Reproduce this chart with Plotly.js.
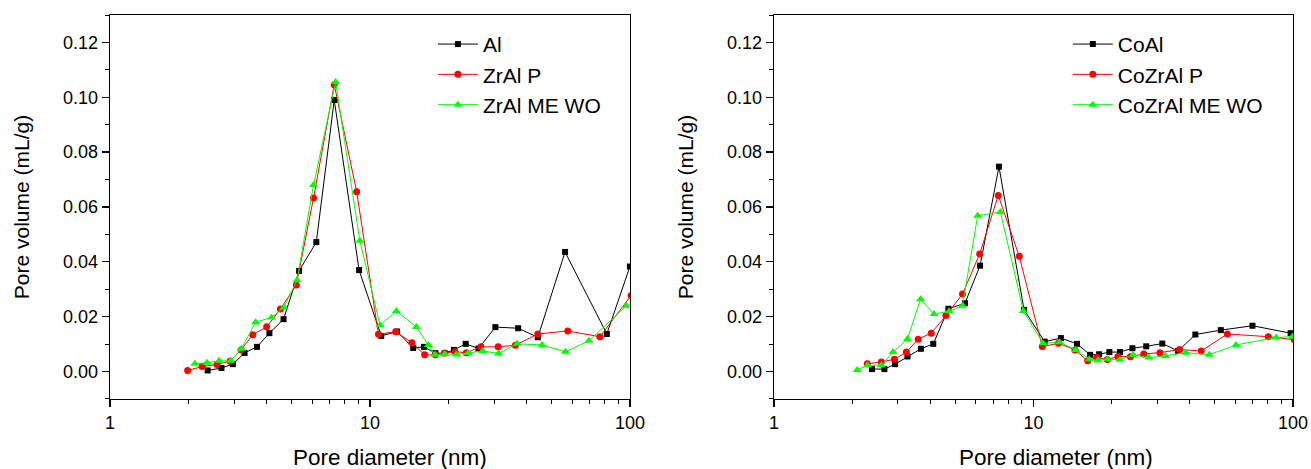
<!DOCTYPE html>
<html><head><meta charset="utf-8">
<script src="https://cdn.plot.ly/plotly-3.0.1.min.js"></script>
<style>body{margin:0;background:#fff}#chart{width:1311px;height:469px}</style>
</head><body><div id="chart"></div>
<script>
// Left panel
const alX = [2.375,2.684,2.969,3.293,3.676,4.104,4.652,5.338,6.218,7.288,9.08,11.05,12.71,14.67,16.13,17.85,19.38,21.04,23.35,26.15,30.37,37.15,44.23,56.29,81.5,100];
const alY = [0.0004,0.0013,0.0027,0.0068,0.0090,0.0140,0.0191,0.0367,0.0472,0.0990,0.0370,0.0130,0.0146,0.0086,0.0090,0.0067,0.0067,0.0079,0.0101,0.0084,0.0162,0.0158,0.0125,0.0436,0.0137,0.0383];
const zrpX = [1.989,2.262,2.579,2.896,3.193,3.543,4.004,4.525,5.208,6.067,7.288,8.889,10.78,12.56,14.50,16.23,17.85,19.38,21.24,23.49,26.72,31.12,36.26,44.23,57.68,76.64,101];
const zrpY = [0.0004,0.0018,0.0026,0.0038,0.0079,0.0134,0.0163,0.0228,0.0316,0.0633,0.1046,0.0656,0.0136,0.0145,0.0105,0.0061,0.0061,0.0068,0.0072,0.0069,0.0090,0.0090,0.0096,0.0137,0.0148,0.0127,0.0277];
const zrmX = [2.121,2.360,2.627,2.914,3.203,3.632,4.180,4.666,5.240,6.067,7.378,9.139,10.94,12.64,15.09,16.79,17.79,19.38,21.50,23.85,27.13,31.22,36.81,45.88,56.47,69.52,96.99];
const zrmY = [0.0028,0.0032,0.0039,0.0039,0.0083,0.0180,0.0197,0.0234,0.0333,0.0680,0.1056,0.0477,0.0169,0.0221,0.0162,0.0097,0.0061,0.0064,0.0062,0.0068,0.0075,0.0066,0.0101,0.0097,0.0072,0.0112,0.0240];
// Right panel
const coX = [2.386,2.663,2.928,3.268,3.681,4.109,4.699,5.441,6.222,7.359,9.195,11.04,12.75,14.71,16.52,17.89,19.60,21.54,24.05,27.18,31.35,36.08,42.03,52.69,69.78,97.88];
const coY = [0.0009,0.0009,0.0027,0.0055,0.0083,0.0101,0.0229,0.0249,0.0386,0.0747,0.0225,0.0109,0.0122,0.0101,0.0061,0.0063,0.0071,0.0071,0.0085,0.0092,0.0102,0.0075,0.0135,0.0151,0.0167,0.0140];
const cozpX = [2.287,2.592,2.910,3.237,3.592,4.034,4.598,5.325,6.203,7.313,8.810,10.81,12.48,14.44,16.17,17.51,19.24,21.15,23.61,26.60,30.69,36.52,44.27,55.83,80.27,101];
const cozpY = [0.0028,0.0035,0.0045,0.0071,0.0118,0.0140,0.0204,0.0283,0.0429,0.0642,0.0420,0.0091,0.0103,0.0079,0.0039,0.0051,0.0044,0.0055,0.0054,0.0064,0.0069,0.0080,0.0075,0.0137,0.0127,0.0116];
const cozmX = [2.093,2.294,2.592,2.875,3.268,3.670,4.134,4.727,5.325,6.090,7.449,9.140,10.88,12.59,14.54,16.42,17.72,19.30,21.48,24.20,27.84,32.23,38.60,47.49,60.26,86.13,99.38];
const cozmY = [0.0006,0.0023,0.0023,0.0071,0.0119,0.0264,0.0210,0.0220,0.0240,0.0568,0.0582,0.0221,0.0103,0.0107,0.0079,0.0045,0.0041,0.0045,0.0043,0.0060,0.0051,0.0057,0.0069,0.0061,0.0097,0.0124,0.0127];

const namesL = ['Al','ZrAl P','ZrAl ME WO'];
const namesR = ['CoAl','CoZrAl P','CoZrAl ME WO'];
const yTicks = [0,0.02,0.04,0.06,0.08,0.10,0.12];
const xTicks = [1,10,100];
const xMinor = [2,3,4,5,6,7,8,9,20,30,40,50,60,70,80,90];
const xTitle = 'Pore diameter (nm)';
const yTitle = 'Pore volume (mL/g)';

const FONT = 'Liberation Sans, Arial, sans-serif';
function tr(x,y,name,color,symbol,size,xa,ya,leg){
  return {x:x,y:y,name:name,type:'scatter',mode:'lines+markers',xaxis:xa,yaxis:ya,legend:leg,
    line:{color:color,width:1},marker:{color:color,symbol:symbol,size:size},cliponaxis:true};
}
const data = [
  tr(alX,alY,namesL[0],'#000000','square',6,'x','y','legend'),
  tr(zrpX,zrpY,namesL[1],'#ff0000','circle',7,'x','y','legend'),
  tr(zrmX,zrmY,namesL[2],'#00ff00','triangle-up',8,'x','y','legend'),
  tr(coX,coY,namesR[0],'#000000','square',6,'x2','y2','legend2'),
  tr(cozpX,cozpY,namesR[1],'#ff0000','circle',7,'x2','y2','legend2'),
  tr(cozmX,cozmY,namesR[2],'#00ff00','triangle-up',8,'x2','y2','legend2')
];
function xax(dom,anchor){
  return {domain:dom,anchor:anchor,type:'log',range:[0,2],showgrid:false,zeroline:false,
    showline:true,mirror:true,linecolor:'#000',linewidth:1.3,
    ticks:'outside',ticklen:7,tickwidth:1.3,tickcolor:'#000',
    tickmode:'array',tickvals:xTicks,ticktext:xTicks.map(String),
    tickfont:{family:FONT,size:18,color:'#000'},
    minor:{tickmode:'array',tickvals:xMinor,ticks:'outside',ticklen:4,tickwidth:1,tickcolor:'#000',showgrid:false}};
}
function yax(anchor){
  return {domain:[0.1493,0.968],anchor:anchor,range:[-0.01,0.13],showgrid:false,zeroline:false,
    showline:true,mirror:true,linecolor:'#000',linewidth:1.3,
    ticks:'outside',ticklen:7,tickwidth:1.3,tickcolor:'#000',
    tickmode:'array',tickvals:yTicks,ticktext:yTicks.map(v=>v.toFixed(2)),
    tickfont:{family:FONT,size:18,color:'#000'},
    minor:{dtick:0.01,tick0:0,ticks:'outside',ticklen:4,tickwidth:1,tickcolor:'#000',showgrid:false},
    title:{text:yTitle,font:{family:FONT,size:21,color:'#000'},standoff:27}};
}
const legendBase = {yanchor:'top',xanchor:'left',bgcolor:'rgba(0,0,0,0)',borderwidth:0,
  font:{family:FONT,size:21,color:'#000'},tracegroupgap:0,itemwidth:40};
function xTitleAnn(xc){
  return {text:xTitle,xref:'paper',yref:'paper',x:xc,y:0.0235,xanchor:'center',yanchor:'middle',
    showarrow:false,font:{family:FONT,size:22.5,color:'#000'}};
}
const layout = {
  width:1311,height:469,margin:{l:0,r:0,t:0,b:0},
  paper_bgcolor:'#fff',plot_bgcolor:'#fff',
  xaxis:xax([0.0839,0.4805],'y'),
  yaxis:yax('x'),
  xaxis2:xax([0.5904,0.9863],'y2'),
  yaxis2:yax('x2'),
  legend:Object.assign({x:0.3302,y:0.949},legendBase),
  legend2:Object.assign({x:0.8145,y:0.949},legendBase),
  annotations:[xTitleAnn(390/1311),xTitleAnn(1056/1311)],
  showlegend:true
};
Plotly.newPlot('chart',data,layout,{displayModeBar:false,staticPlot:true});
</script></body></html>
